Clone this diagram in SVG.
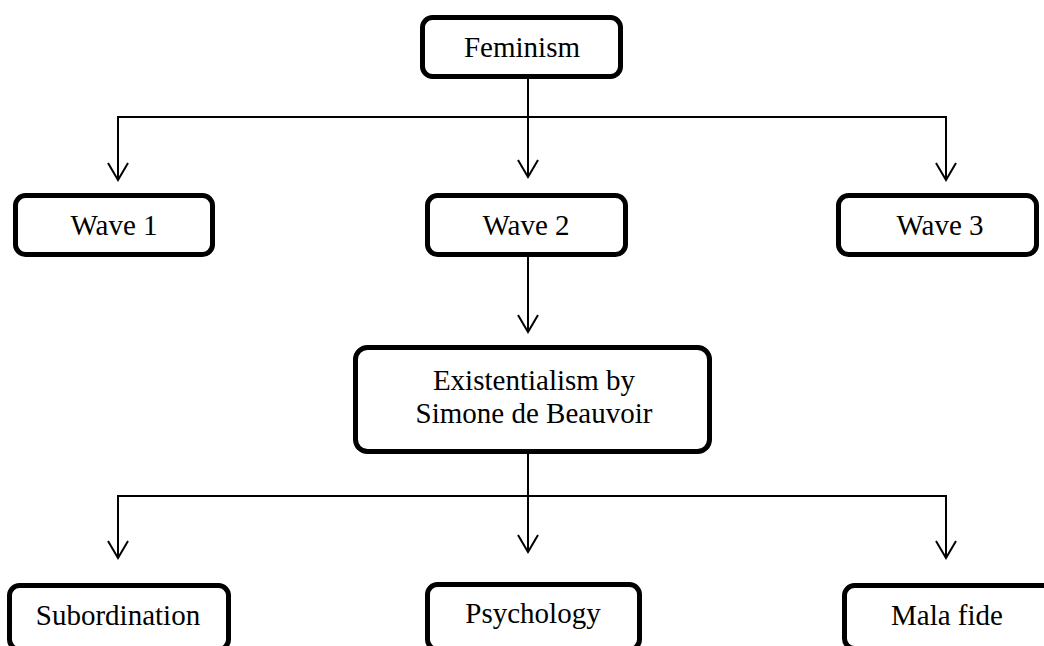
<svg xmlns="http://www.w3.org/2000/svg" width="1044" height="646" viewBox="0 0 1044 646">
  <style>
    .box { fill: #fff; stroke: #000; stroke-width: 5; }
    .lbl { font-family: "Liberation Serif", "Times New Roman", serif; font-size: 29px; fill: #000; text-anchor: middle; }
    .con { fill: none; stroke: #000; stroke-width: 2; }
  </style>
  <defs>
    <marker id="arr" viewBox="-20 -12 23 24" refX="0" refY="0" markerWidth="23" markerHeight="24" markerUnits="userSpaceOnUse" orient="auto">
      <path d="M-17,-10 L0,0 L-17,10" fill="none" stroke="#000" stroke-width="2"/>
    </marker>
  </defs>
  <rect width="1044" height="646" fill="#fff"/>

  <g id="connectors">
    <line class="con" x1="528" y1="79" x2="528" y2="177" marker-end="url(#arr)"/>
    <polyline class="con" points="118,180 118,117 946,117 946,180" marker-end="url(#arr)"/>
    <line class="con" x1="118" y1="118" x2="118" y2="180" marker-end="url(#arr)"/>
    <line class="con" x1="528" y1="257" x2="528" y2="332" marker-end="url(#arr)"/>
    <line class="con" x1="528" y1="454" x2="528" y2="552" marker-end="url(#arr)"/>
    <polyline class="con" points="118,496 946,496 946,558" marker-end="url(#arr)"/>
    <line class="con" x1="118" y1="495" x2="118" y2="558" marker-end="url(#arr)"/>
  </g>

  <g id="feminism">
    <rect class="box" x="422.5" y="17.5" width="198" height="59" rx="10"/>
    <text class="lbl" x="522" y="57">Feminism</text>
  </g>
  <g id="wave1">
    <rect class="box" x="15.5" y="195.5" width="197" height="59" rx="10"/>
    <text class="lbl" x="114" y="235">Wave 1</text>
  </g>
  <g id="wave2">
    <rect class="box" x="427.5" y="195.5" width="198" height="59" rx="10"/>
    <text class="lbl" x="526" y="235">Wave 2</text>
  </g>
  <g id="wave3">
    <rect class="box" x="838.5" y="195.5" width="198" height="59" rx="10"/>
    <text class="lbl" x="940" y="235">Wave 3</text>
  </g>
  <g id="existentialism">
    <rect class="box" x="355.5" y="347.5" width="354" height="104" rx="12"/>
    <text class="lbl" x="534" y="390">Existentialism by</text>
    <text class="lbl" x="534" y="423">Simone de Beauvoir</text>
  </g>
  <g id="subordination">
    <rect class="box" x="9.5" y="585.5" width="219" height="64" rx="10"/>
    <text class="lbl" x="118" y="625">Subordination</text>
  </g>
  <g id="psychology">
    <rect class="box" x="427.5" y="584.5" width="212" height="65" rx="10"/>
    <text class="lbl" x="533" y="623">Psychology</text>
  </g>
  <g id="malafide">
    <rect class="box" x="844.5" y="585.5" width="220" height="63" rx="10"/>
    <text class="lbl" x="947" y="625">Mala fide</text>
  </g>
</svg>
